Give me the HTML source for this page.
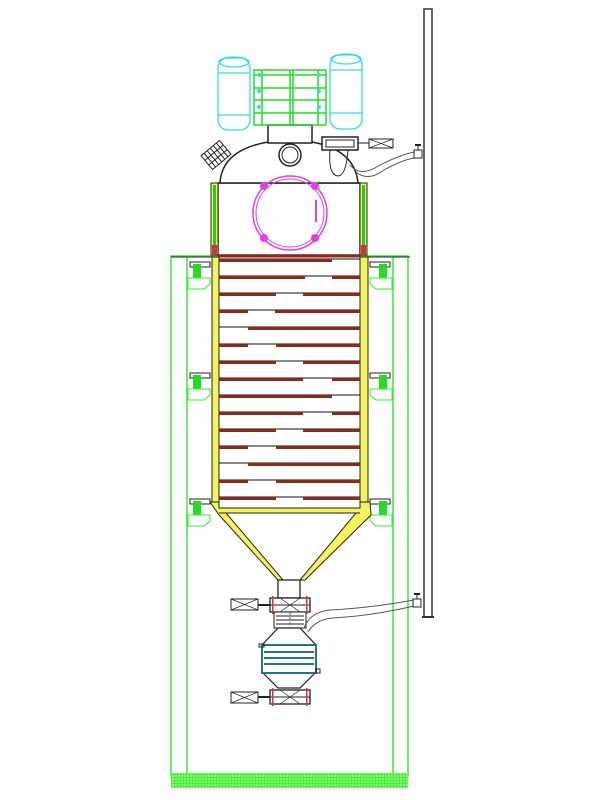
<!DOCTYPE html>
<html><head><meta charset="utf-8"><style>html,body{margin:0;padding:0;background:#fff}svg{display:block}</style></head>
<body>
<svg width="600" height="800" viewBox="0 0 600 800" xmlns="http://www.w3.org/2000/svg">
<defs>
<pattern id="hatch" width="3" height="3" patternUnits="userSpaceOnUse"><rect width="3" height="3" fill="#7dff6a"/><path d="M0 0H3M0 0V3" stroke="#22dd22" stroke-width="1"/></pattern>
</defs>
<!-- pole -->
<rect x="424" y="9" width="8" height="608" fill="none" stroke="#333" stroke-width="1.5"/>
<line x1="422" y1="617" x2="434" y2="617" stroke="#333" stroke-width="2"/>
<!-- green frame -->
<g fill="none" stroke="#33ee33" stroke-width="1.5">
<rect x="171" y="256" width="237" height="520"/>
<line x1="187" y1="256" x2="187" y2="774"/>
<line x1="393" y1="256" x2="393" y2="774"/>
</g>
<rect x="171" y="773" width="237" height="15" fill="url(#hatch)"/>
<line x1="171" y1="257" x2="410" y2="257" stroke="#222" stroke-width="1"/>
<!-- supports -->
<g>
<g id="sup">
<rect x="190" y="262" width="20" height="5" fill="none" stroke="#222"/>
<path d="M193 264 h8 v14 h-8z" fill="#22dd22"/>
<path d="M188 278 h22 v6 l-6 5 h-16z" fill="none" stroke="#33ee33"/>
</g>
<use href="#sup" y="111"/>
<use href="#sup" y="237"/>
<g transform="translate(580 0) scale(-1 1)">
<use href="#sup"/><use href="#sup" y="111"/><use href="#sup" y="237"/>
</g>
</g>
<!-- upper section -->
<rect x="218" y="183" width="142" height="72" fill="#fff" stroke="#222" stroke-width="1.5"/>
<rect x="211" y="183" width="7" height="72" fill="#f3f35a" stroke="#222"/>
<rect x="213" y="185" width="3" height="66" fill="#22cc22"/>
<rect x="360" y="183" width="7" height="72" fill="#f3f35a" stroke="#222"/>
<rect x="362" y="185" width="3" height="66" fill="#22cc22"/>
<rect x="212" y="245" width="5" height="10" fill="#c33"/>
<rect x="361" y="245" width="5" height="10" fill="#c33"/>
<line x1="218" y1="256" x2="360" y2="256" stroke="#8b2a1a" stroke-width="3"/>
<!-- dome -->
<path d="M220 183 Q222 150 268 142 L312 142 Q355 150 358 183 Z" fill="#fff" stroke="#222" stroke-width="1.5"/>
<rect x="268" y="125" width="44" height="18" fill="#fff" stroke="#222" stroke-width="1.5"/>
<circle cx="290" cy="155" r="11" fill="none" stroke="#222" stroke-width="1.5"/>
<circle cx="290" cy="155" r="8" fill="none" stroke="#222"/>
<!-- manway -->
<circle cx="290" cy="213" r="37" fill="none" stroke="#e040e0" stroke-width="1.5"/>
<circle cx="290" cy="213" r="34" fill="none" stroke="#e040e0"/>
<g fill="#e040e0"><circle cx="264" cy="186" r="4"/><circle cx="315" cy="186" r="4"/><circle cx="264" cy="238" r="4"/><circle cx="315" cy="238" r="4"/></g>
<line x1="316" y1="200" x2="316" y2="222" stroke="#e040e0" stroke-width="2"/>
<!-- left hatch -->
<g transform="rotate(-40 216 155)" fill="none" stroke="#222">
<rect x="204" y="146" width="24" height="18" fill="#fff"/>
<path d="M208 146v18M212 146v18M216 146v18M220 146v18M224 146v18M204 152h24M204 158h24"/>
</g>
<!-- cyan cylinders -->
<g fill="none" stroke="#33dddd" stroke-width="1.3">
<rect x="218" y="58" width="32" height="72" rx="10"/>
<line x1="218" y1="73" x2="250" y2="73"/><line x1="218" y1="115" x2="250" y2="115"/>
<rect x="330" y="55" width="32" height="74" rx="10"/>
<line x1="330" y1="70" x2="362" y2="70"/><line x1="330" y1="113" x2="362" y2="113"/>
<ellipse cx="234" cy="62" rx="15" ry="5"/><ellipse cx="346" cy="59" rx="15" ry="5"/>
</g>
<!-- green cage -->
<g fill="none" stroke="#22dd22" stroke-width="1.5">
<rect x="254" y="70" width="72" height="55"/>
<path d="M254 75h72M254 88h72M254 100h72M254 113h72M262 70v55M290 70v55M293 70v55M318 70v55"/>
</g>
<g fill="#33dddd"><circle cx="259" cy="75" r="2"/><circle cx="259" cy="91" r="2"/><circle cx="259" cy="107" r="2"/><circle cx="319" cy="75" r="2"/><circle cx="319" cy="91" r="2"/><circle cx="319" cy="107" r="2"/></g>
<!-- right nozzle & pipe -->
<rect x="322" y="137" width="36" height="13" fill="#fff" stroke="#222" stroke-width="1.5"/>
<rect x="326" y="140" width="28" height="7" fill="none" stroke="#222"/>
<line x1="358" y1="143" x2="369" y2="143" stroke="#222"/>
<rect x="369" y="139" width="24" height="9" fill="#fff" stroke="#222"/>
<path d="M369 139l24 9M369 148l24-9" stroke="#222" stroke-width="0.8"/>
<path d="M330 150 Q328 175 338 176 Q346 176 348 150" fill="none" stroke="#222"/>
<path d="M350 165 Q360 178 380 165 Q400 155 414 152 M356 172 Q368 182 384 170 Q402 160 414 158" fill="none" stroke="#555"/>
<rect x="414" y="150" width="8" height="8" fill="#fff" stroke="#222"/>
<line x1="418" y1="150" x2="418" y2="145" stroke="#222"/>
<line x1="415" y1="145" x2="421" y2="145" stroke="#222" stroke-width="2"/>
<!-- column walls -->
<rect x="212" y="257" width="7" height="245" fill="#f3f35a" stroke="#222"/>
<rect x="360" y="257" width="8" height="245" fill="#f3f35a" stroke="#222"/>
<!-- trays -->
<g id="trays" fill="#8b2a1a" stroke="none"></g>
<g stroke="#111" stroke-width="1">
<path d="M219 259H360M219 276H360M219 293H360M219 310H360M219 327H360M219 344H360M219 361H360M219 378H360M219 395H360M219 412H360M219 429H360M219 446H360M219 463H360M219 480H360M219 497H360"/>
</g>
<g fill="#8b2a1a">
<rect x="219" y="259" width="113" height="3"/>
<rect x="219" y="276" width="86" height="3"/><rect x="332" y="276" width="28" height="3"/>
<rect x="219" y="293" width="57" height="3"/><rect x="303" y="293" width="57" height="3"/>
<rect x="219" y="310" width="29" height="3"/><rect x="275" y="310" width="85" height="3"/>
<rect x="248" y="327" width="112" height="3"/>
<rect x="219" y="344" width="29" height="3"/><rect x="276" y="344" width="84" height="3"/>
<rect x="219" y="361" width="57" height="3"/><rect x="303" y="361" width="57" height="3"/>
<rect x="219" y="378" width="84" height="3"/><rect x="332" y="378" width="28" height="3"/>
<rect x="219" y="395" width="113" height="3"/>
<rect x="219" y="412" width="84" height="3"/><rect x="332" y="412" width="28" height="3"/>
<rect x="219" y="429" width="57" height="3"/><rect x="303" y="429" width="57" height="3"/>
<rect x="219" y="446" width="29" height="3"/><rect x="276" y="446" width="84" height="3"/>
<rect x="248" y="463" width="112" height="3"/>
<rect x="219" y="480" width="29" height="3"/><rect x="276" y="480" width="84" height="3"/>
<rect x="219" y="497" width="57" height="3"/><rect x="303" y="497" width="57" height="3"/>
</g>
<!-- cone -->
<path d="M210 502 L219 515 L278 580 L283 580 L226 513 L356 513 L300 580 L305 580 L371 515 L370 502 L360 502 L360 508 L219 508 L219 502 Z" fill="#f3f35a" stroke="#222"/>
<line x1="219" y1="513" x2="360" y2="513" stroke="#222"/>
<!-- neck & valve -->
<rect x="278" y="580" width="22" height="18" fill="#fff" stroke="#222" stroke-width="1.3"/>
<rect x="270" y="598" width="40" height="14" fill="#fff" stroke="#222" stroke-width="1.3"/>
<line x1="270" y1="605" x2="310" y2="605" stroke="#222"/>
<path d="M280 598l20 14M280 612l20-14" stroke="#222" stroke-width="0.7"/>
<line x1="258" y1="605" x2="270" y2="605" stroke="#222" stroke-width="2"/>
<rect x="231" y="599" width="27" height="11" fill="#fff" stroke="#222"/>
<path d="M231 599l27 11M231 610l27-11" stroke="#222" stroke-width="0.7"/>
<path d="M274 612 h32 v16 h-32z M276 616h28M276 620h28M276 624h28" fill="#fff" stroke="#222"/>
<line x1="290" y1="612" x2="290" y2="640" stroke="#d33" stroke-dasharray="3 2"/>
<!-- pipe -->
<path d="M304 628 Q310 612 330 610 Q370 608 414 600 M308 632 Q315 620 332 618 Q372 616 414 606" fill="none" stroke="#555"/>
<rect x="413" y="599" width="8" height="8" fill="#fff" stroke="#222"/>
<line x1="417" y1="599" x2="417" y2="594" stroke="#222"/>
<line x1="414" y1="594" x2="420" y2="594" stroke="#222" stroke-width="2"/>
<!-- body -->
<path d="M278 628 L300 628 L316 645 L316 672 L300 688 L278 688 L262 672 L262 645 Z" fill="#fff" stroke="#222" stroke-width="1.2"/>
<rect x="262" y="645" width="54" height="28" fill="#fff" stroke="#227777" stroke-width="2"/>
<g stroke="#227777" stroke-width="2"><path d="M264 652h50M264 658h50M264 664h50"/></g>
<rect x="259" y="644" width="5" height="3" fill="none" stroke="#222"/>
<rect x="316" y="669" width="4" height="4" fill="none" stroke="#222"/>
<!-- lower valve -->
<rect x="270" y="690" width="40" height="14" fill="#fff" stroke="#222" stroke-width="1.3"/>
<line x1="270" y1="697" x2="310" y2="697" stroke="#222"/>
<path d="M280 690l20 14M280 704l20-14" stroke="#222" stroke-width="0.7"/>
<line x1="258" y1="697" x2="270" y2="697" stroke="#222" stroke-width="2"/>
<rect x="231" y="692" width="27" height="11" fill="#fff" stroke="#222"/>
<path d="M231 692l27 11M231 703l27-11" stroke="#222" stroke-width="0.7"/>
<g fill="#d33"><rect x="272" y="688" width="1.5" height="18"/><rect x="306" y="688" width="1.5" height="18"/><rect x="272" y="596" width="1.5" height="18"/><rect x="306" y="596" width="1.5" height="18"/></g>
</svg>
</body></html>
